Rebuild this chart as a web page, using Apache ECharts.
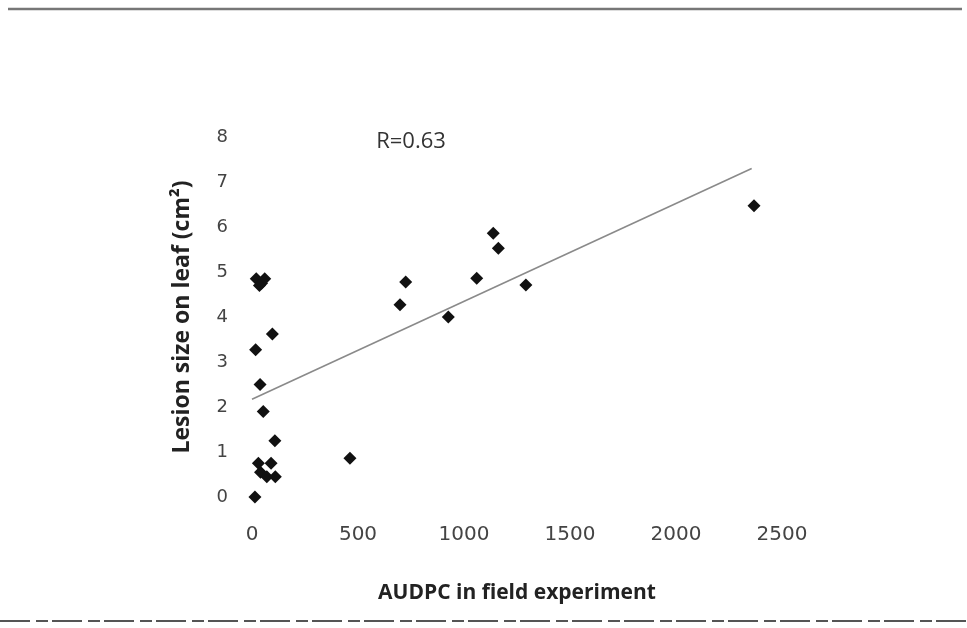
<!DOCTYPE html>
<html>
<head>
<meta charset="utf-8">
<script src="https://cdn.jsdelivr.net/npm/echarts@6/dist/echarts.min.js"></script>
<style>
html,body{margin:0;padding:0;background:#fff;}
#chart{width:967px;height:628px;}
</style>
</head>
<body>
<div id="chart"></div>
<script>
// Data
const audpc = [14, 53, 38, 17, 96, 108, 20, 45, 60, 35, 30, 90, 40, 70, 110, 462, 698, 725, 926, 1060, 1138, 1162, 1292, 2368];
const lesion = [0.0, 1.9, 2.5, 3.27, 3.62, 1.25, 4.85, 4.75, 4.85, 4.7, 0.75, 0.75, 0.55, 0.45, 0.45, 0.86, 4.27, 4.78, 4.0, 4.86, 5.86, 5.53, 4.71, 6.47];
const trendX = [0, 2357];
const trendY = [2.17, 7.3];
const xTicks = [0, 500, 1000, 1500, 2000, 2500];
const yTicks = [0, 1, 2, 3, 4, 5, 6, 7, 8];
const rLabel = 'R=0.63';
const rLabelAt = [750, 7.9];
const xTitle = 'AUDPC in field experiment';
const yTitle = 'Lesion size on leaf (cm\u00B2)';

const points = audpc.map((x, i) => [x, lesion[i]]);
const trend = trendX.map((x, i) => [x, trendY[i]]);

const chart = echarts.init(document.getElementById('chart'), null, {renderer: 'canvas'});
chart.setOption({
  backgroundColor: '#ffffff',
  animation: false,
  grid: {left: 252, right: 185, top: 137, bottom: 131},
  xAxis: {
    type: 'value', min: xTicks[0], max: xTicks[xTicks.length - 1], interval: 500,
    axisLine: {show: false}, axisTick: {show: false}, splitLine: {show: false},
    axisLabel: {fontFamily: 'DejaVu Sans', fontSize: 20, color: '#444', margin: 28, formatter: v => String(v)},
    name: xTitle, nameLocation: 'middle', nameGap: 86,
    nameTextStyle: {fontFamily: 'Open Sans', fontWeight: 'bold', fontSize: 21, color: '#222'}
  },
  yAxis: {
    type: 'value', min: yTicks[0], max: yTicks[yTicks.length - 1], interval: 1,
    axisLine: {show: false}, axisTick: {show: false}, splitLine: {show: false},
    axisLabel: {fontFamily: 'DejaVu Sans', fontSize: 18, color: '#444', margin: 24},
    name: yTitle, nameLocation: 'middle', nameGap: 58, nameRotate: 90,
    nameTextStyle: {fontFamily: 'Open Sans', fontWeight: 'bold', fontSize: 23, color: '#222'}
  },
  graphic: [
    {type: 'line', shape: {x1: 8, y1: 9, x2: 962, y2: 9}, style: {stroke: '#777', lineWidth: 2.5}},
    {type: 'line', shape: {x1: 0, y1: 621, x2: 967, y2: 621}, style: {stroke: '#555', lineWidth: 2, lineDash: [30, 6, 12, 4]}}
  ],
  series: [
    {
      type: 'line', data: trend, symbol: 'none', silent: true,
      lineStyle: {color: '#8a8a8a', width: 1.6}
    },
    {
      type: 'scatter', data: points, symbol: 'diamond', symbolSize: 13,
      itemStyle: {color: '#111', opacity: 1},
      markPoint: {
        symbol: 'rect', symbolSize: 0,
        data: [{coord: rLabelAt, value: rLabel}],
        label: {show: true, formatter: rLabel, fontFamily: 'Open Sans', fontSize: 22, color: '#333', position: 'inside'}
      }
    }
  ]
});
</script>
</body>
</html>
